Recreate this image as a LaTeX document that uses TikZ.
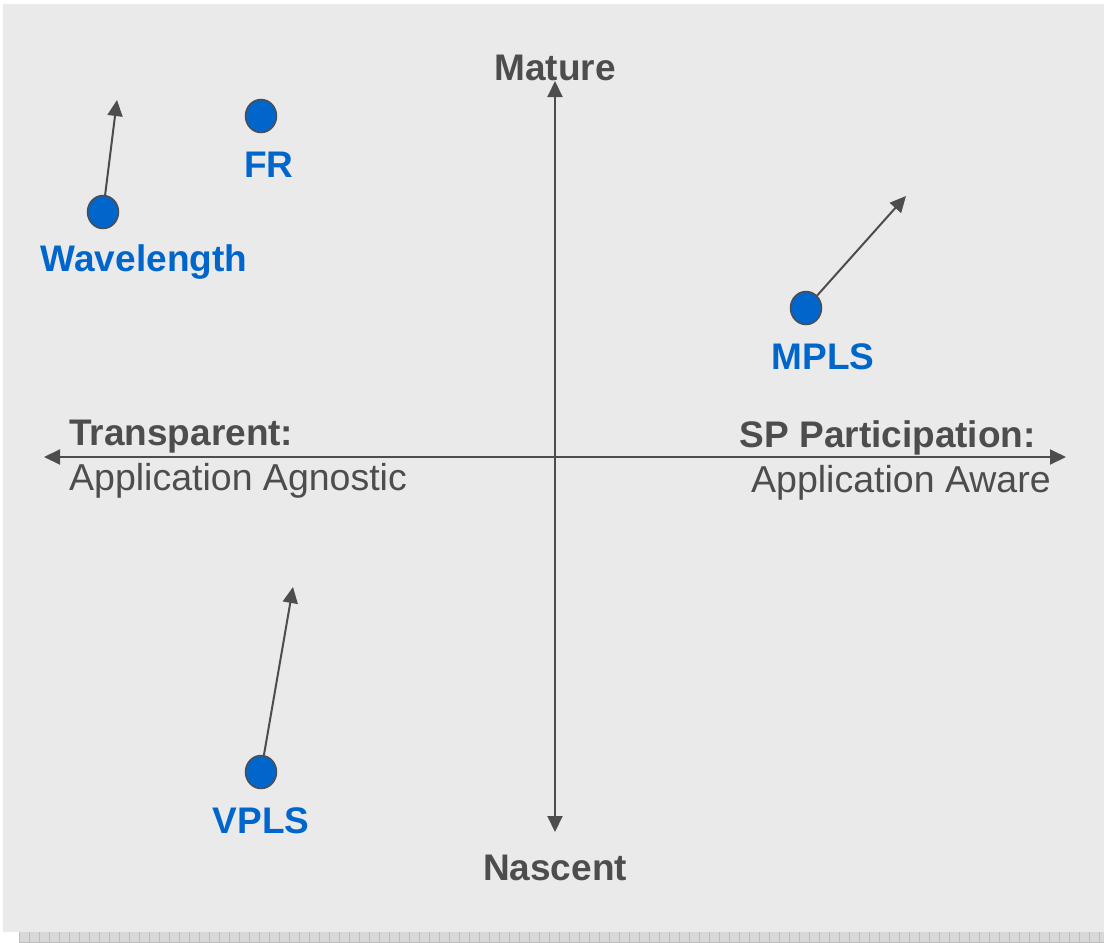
\documentclass[tikz,border=0pt]{standalone}
\usepackage{fontspec}
\setmainfont{Liberation Sans}
\usetikzlibrary{shapes, positioning, arrows.meta}
\definecolor{axisgrey}{HTML}{4D4D4D}
\definecolor{spotblue}{HTML}{0066CC}
\definecolor{panelgrey}{HTML}{EAEAEA}
\definecolor{stripgrey}{HTML}{D8D8D8}
\definecolor{stripline}{HTML}{BDBDBD}

\begin{document}
\begin{tikzpicture}[x=1pt, y=-1pt, node distance=19pt,
 every node/.style={inner sep=0pt, font=\fontsize{37.5}{40}\selectfont},
 spot/.style={ellipse, draw=axisgrey, line width=1.5pt, fill=spotblue, minimum width=31pt, minimum height=33pt},
 tag/.style={text=spotblue, font=\fontsize{37}{40}\selectfont\bfseries, text height=26pt, text depth=7pt},
 axistitle/.style={text=axisgrey, font=\fontsize{37}{40}\selectfont\bfseries},
 axissub/.style={text=axisgrey},
 trend/.style={draw=axisgrey, line width=2pt, -{Triangle[length=16pt,width=15pt]}}]
 \useasboundingbox (0,0) rectangle (1104,943);
 \fill[white] (0,0) rectangle (1104,943);
 \fill[panelgrey] (3,4) rectangle (1104,932);
 \fill[stripgrey] (19,932) rectangle (1104,943);
 \foreach \x in {19,29,...,1099} \draw[stripline, line width=1pt] (\x,932) -- (\x,943);
 \draw[stripline, line width=1pt] (19,942) -- (1104,942);
 % axes
 \coordinate (xleft) at (44,457);
 \coordinate (xright) at (1066,457);
 \coordinate (ytop) at (555,81);
 \coordinate (ybot) at (555,832);
 \draw[trend, {Triangle[length=16pt,width=15pt]}-{Triangle[length=16pt,width=15pt]}] (xleft) -- (xright);
 \draw[trend, {Triangle[length=16pt,width=15pt]}-{Triangle[length=16pt,width=15pt]}] (ybot) -- (ytop);
 \node[axistitle, anchor=base] (mature) at (555,80) {Mature};
 \node[axistitle, anchor=base] (nascent) at (555,880) {Nascent};
 \node[axistitle, anchor=base west] (transp) at (69,445) {Transparent:};
 \node[axissub, anchor=base west] (agnostic) at (69,490) {Application Agnostic};
 \node[axistitle, anchor=base east] (sppart) at (1036,447) {SP Participation:};
 \node[axissub, anchor=base west] (aware) at (751,492) {Application Aware};
 % technologies
 \node[spot] (wdot) at (103,212) {};
 \node[spot] (frdot) at (261,116) {};
 \node[spot] (mdot) at (806,308) {};
 \node[spot] (vdot) at (261,772) {};
 \node[tag, below=16pt of wdot, xshift=41pt] (wave) {Wavelength};
 \node[tag, below=18pt of frdot, xshift=8pt] (fr) {FR};
 \node[tag, below=18pt of mdot, xshift=17pt] (mpls) {MPLS};
 \node[tag, below=18pt of vdot] (vpls) {VPLS};
 \coordinate (wtip) at (117,100);
 \coordinate (mtip) at (906,196);
 \coordinate (vtip) at (293,587);
 \draw[trend] (wdot) -- (wtip);
 \draw[trend] (mdot) -- (mtip);
 \draw[trend] (vdot) -- (vtip);
\end{tikzpicture}
\end{document}
